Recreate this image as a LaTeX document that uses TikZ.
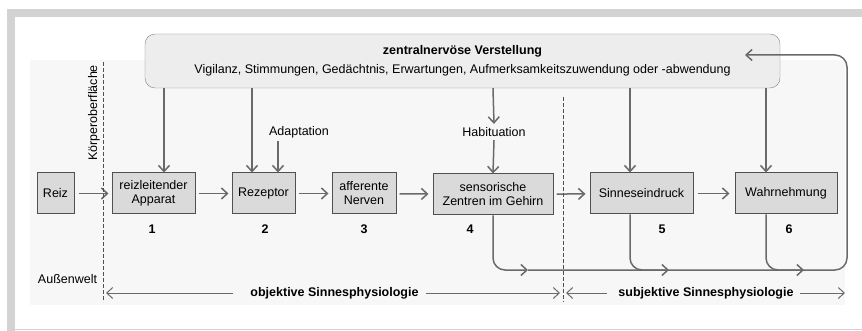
\documentclass[tikz,border=0pt]{standalone}
\usepackage{fontspec}
\setmainfont{Liberation Sans}
\usepackage{tikz}
\usetikzlibrary{arrows.meta,positioning}

\definecolor{frame}{HTML}{D3D3D3}
\definecolor{page}{HTML}{F7F7F7}
\definecolor{boxfill}{HTML}{DADADA}
\definecolor{boxline}{HTML}{505050}
\definecolor{arrowcol}{HTML}{6A6A6A}

\begin{document}
\begin{tikzpicture}[
  x=1pt, y=-1pt, >={Straight Barb[length=6pt,width=11pt]},
  node distance=6pt,
  stage/.style={draw=boxline, fill=boxfill, line width=1pt, minimum height=41pt,
                font=\fontsize{12.5}{14}\selectfont, align=center, inner sep=2pt},
  nr/.style={font=\fontsize{12.5}{14}\selectfont\bfseries},
  lbl/.style={font=\fontsize{12.5}{14}\selectfont},
  flow/.style={->, draw=arrowcol, line width=1.5pt},
  border/.style={draw=boxline, dashed, line width=0.9pt, dash pattern=on 4pt off 2pt},
]
\useasboundingbox (0,0) rectangle (862,331);
% frame and page
\fill[frame] (7,9) rectangle (862,17);
\fill[frame] (7,9) rectangle (15,331);
\draw[frame, line width=1pt] (15,329.5) -- (862,329.5);
\fill[page] (30,60) rectangle (845,305);

% central box
\node[draw=gray, fill=black!7, rounded corners=10pt, minimum width=635pt, minimum height=54pt,
      align=center, font=\fontsize{12.5}{19}\selectfont] (zns) at (462.5,61)
  {\textbf{zentralnervöse Verstellung}\\Vigilanz, Stimmungen, Gedächtnis, Erwartungen, Aufmerksamkeitszuwendung oder -abwendung};

% stages
\node[stage, minimum width=37pt] (reiz) at (55.5,193.5) {Reiz};
\node[stage, minimum width=83pt] (app) at (153.5,193.5) {reizleitender\\Apparat};
\node[stage, minimum width=63pt] (rez) at (263.5,193.5) {Rezeptor};
\node[stage, minimum width=64pt] (aff) at (364,193.5) {afferente\\Nerven};
\node[stage, minimum width=120pt] (sens) at (493,194.5) {sensorische\\Zentren im Gehirn};
\node[stage, minimum width=103pt] (sinn) at (641.5,193.5) {Sinneseindruck};
\node[stage, minimum width=102pt] (wahr) at (786,193.5) {Wahrnehmung};

\node[nr] (n1) at (152,229) {1};
\node[nr] (n2) at (265,229) {2};
\node[nr] (n3) at (364,229) {3};
\node[nr] (n4) at (470,229) {4};
\node[nr] (n5) at (662,229) {5};
\node[nr] (n6) at (789,229) {6};

% chain
\draw[flow, shorten <=4pt, shorten >=3pt] (reiz) -- (app);
\draw[flow, shorten <=3pt, shorten >=3pt] (app) -- (rez);
\draw[flow, shorten <=3pt, shorten >=3pt] (rez) -- (aff);
\draw[flow, shorten <=3pt, shorten >=4pt] (aff) -- (sens);
\draw[flow, shorten <=3pt, shorten >=4pt] (sens) -- (sinn);
\draw[flow, shorten <=4pt, shorten >=5pt] (sinn) -- (wahr);

% columns
\coordinate (c1) at (164,0);
\coordinate (c2) at (252,0);
\coordinate (c3) at (278,0);
\coordinate (c4) at (493,0);
\coordinate (c5) at (630,0);
\coordinate (c6) at (766,0);

\node[lbl] (adapt) at (299,132) {Adaptation};
\node[lbl] (habit) at (494,132) {Habituation};

\draw[flow] (c1 |- zns.south) -- (c1 |- app.north);
\draw[flow] (c2 |- zns.south) -- (c2 |- rez.north);
\draw[flow] (c3 |- adapt.south) -- (c3 |- rez.north);
\draw[flow] (c4 |- zns.south) -- (habit.north);
\draw[flow] (habit.south) -- (c4 |- sens.north);
\draw[flow] (c5 |- zns.south) -- (c5 |- sinn.north);
\draw[flow] (c6 |- zns.south) -- (c6 |- wahr.north);

% feedback
\coordinate (m4) at (528,270);
\coordinate (m5) at (669,270);
\coordinate (m6) at (804,270);
\coordinate (r1) at (847,270);
\coordinate (rt) at (847,55);
\coordinate (back) at (745,55);
\draw[flow, rounded corners=12pt] (m4) -- (r1) -- (rt) -- (back);
\draw[flow, rounded corners=12pt] (c4 |- sens.south) |- (m4);
\draw[flow, rounded corners=12pt] (c5 |- sinn.south) |- (m5);
\draw[flow, rounded corners=12pt] (c6 |- wahr.south) |- (m6);

% body surface and fields
\coordinate (d1t) at (103,62);
\coordinate (d1b) at (103,302);
\coordinate (d2t) at (563,97);
\coordinate (d2b) at (563,302);
\draw[border] (d1t) -- (d1b);
\draw[border] (d2t) -- (d2b);
\node[lbl, rotate=90] (koerper) at (94,113) {Körperoberfläche};
\node[lbl] (aussen) at (67.5,279) {Außenwelt};

\node[nr] (obj) at (334.5,293) {objektive Sinnesphysiologie};
\node[nr] (subj) at (706,293) {subjektive Sinnesphysiologie};
\coordinate (sr) at (845,293);
\draw[flow, line width=1pt, shorten <=14pt, shorten >=3pt] (obj.west) -- (d1b |- obj);
\draw[flow, line width=1pt, shorten <=4pt, shorten >=3pt] (obj.east) -- (d2b |- obj);
\draw[flow, line width=1pt, shorten <=8pt, shorten >=3pt] (subj.west) -- (d2b |- subj);
\draw[flow, line width=1pt, shorten <=3pt] (subj.east) -- (sr);
\end{tikzpicture}
\end{document}
